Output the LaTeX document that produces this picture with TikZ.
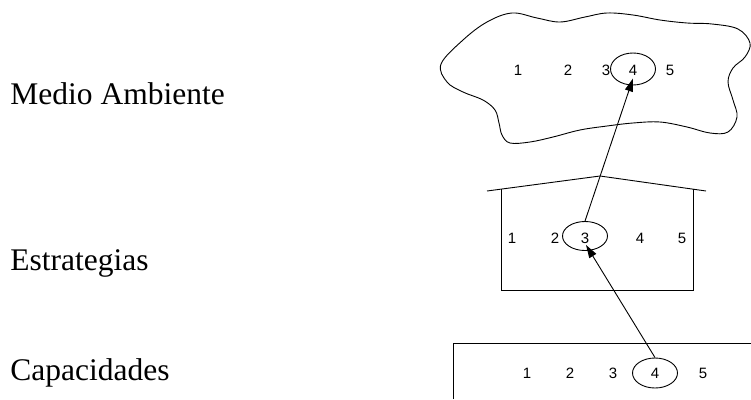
\documentclass[tikz,border=0pt]{standalone}
\usepackage{fontspec}
\setmainfont{Liberation Serif}
\newfontfamily\numfont{Liberation Sans}
\usetikzlibrary{shapes.geometric,arrows.meta}
\begin{document}
\begin{tikzpicture}[x=1pt,y=-1pt,line width=0.9pt,
  lbl/.style={anchor=base west,inner sep=0pt,font=\fontsize{31.5}{36}\selectfont},
  num/.style={inner sep=0pt,font=\numfont\fontsize{15}{18}\selectfont},
  ring/.style={draw,ellipse,inner sep=0pt,minimum width=45pt,minimum height=30pt},
  link/.style={-{Triangle[length=13pt,width=8pt]}}]
\useasboundingbox (0,0) rectangle (751,399);

% level names
\node[lbl] (medio) at (10,104) {Medio Ambiente};
\node[lbl] (estr) at (10,270) {Estrategias};
\node[lbl] (capa) at (10,380) {Capacidades};

% environment: cloud outline
\draw plot[smooth cycle,tension=0.6] coordinates {
  (441,64) (463,40) (487,22) (512,13) (537,18) (560,22) (585,17) (607,13)
  (633,15) (660,20) (687,23) (712,24) (738,29) (750,43) (745,57) (733,68)
  (728,82) (733,100) (737,117) (728,132) (710,133) (687,127) (660,122)
  (633,123) (607,126) (580,130) (553,137) (530,142) (510,143) (502,135)
  (499,123) (495,110) (483,100) (463,92) (447,82)};
\node[num] (a1) at (518,70) {1};
\node[num] (a2) at (568,70) {2};
\node[num] (a3) at (606,70) {3};
\node[ring,minimum height=32pt] (a4) at (633,69) {};
\node[num] (a4t) at (633,70) {4};
\node[num] (a5) at (670,70) {5};

% strategies: house outline
\draw (487,191) -- (600,176) -- (706,191);
\draw (501,189) -- (501,290) -- (693,290) -- (693,189);
\node[num] (s1) at (512,238) {1};
\node[num] (s2) at (555,238) {2};
\node[ring,minimum height=29pt] (s3) at (585,236) {};
\node[num] (s3t) at (585,238) {3};
\node[num] (s4) at (640,238) {4};
\node[num] (s5) at (682,238) {5};

% capabilities: open box
\draw (453,399) -- (453,343) -- (751,343);
\node[num] (c1) at (527,373) {1};
\node[num] (c2) at (570,373) {2};
\node[num] (c3) at (613,373) {3};
\node[ring] (c4) at (655,373) {};
\node[num] (c4t) at (655,373) {4};
\node[num] (c5) at (703,373) {5};

% links between the chosen options; the tips reach inside the rings
\draw[link] (c4.north) -- ([xshift=1pt,yshift=6pt]s3.south);
\draw[link] (s3.north) -- ([yshift=7pt]a4.south);
\end{tikzpicture}
\end{document}
